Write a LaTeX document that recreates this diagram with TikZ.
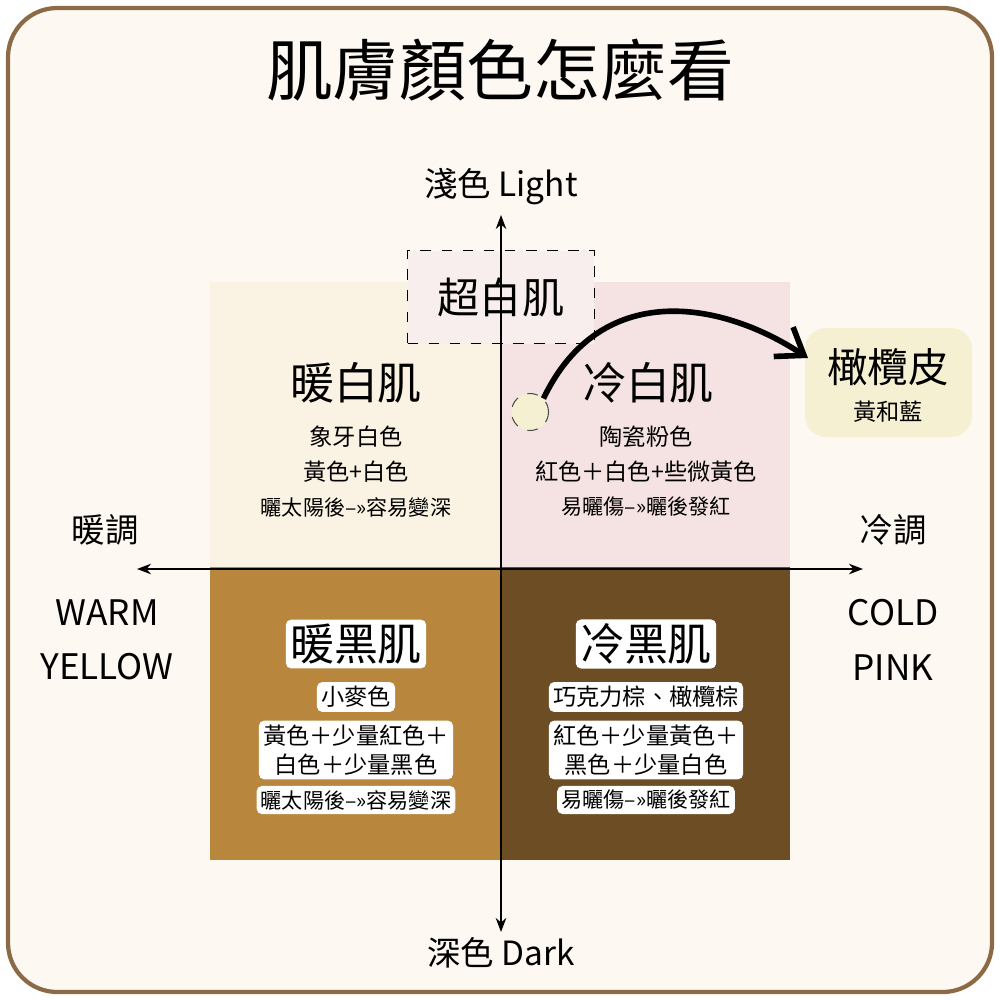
\documentclass[tikz,border=0pt]{standalone}
\usepackage{fontspec}
\setmainfont{Noto Sans CJK TC}
\usetikzlibrary{arrows.meta}
\definecolor{bg}{HTML}{FDF8F2}
\definecolor{frame}{HTML}{8B6A45}
\definecolor{qtl}{HTML}{FAF2E2}
\definecolor{qtr}{HTML}{F5E2E2}
\definecolor{qbl}{HTML}{B8873D}
\definecolor{qbr}{HTML}{6D4D24}
\definecolor{olive}{HTML}{F6F0D3}
\tikzset{
  qt/.style={font=\fontsize{12.5}{14}\selectfont},
  st/.style={font=\fontsize{6.6}{8}\selectfont},
  wt/.style={fill=white,rounded corners=1.5pt,inner sep=1.2pt},
  lbl/.style={font=\fontsize{9.5}{11}\selectfont},
  ax/.style={line width=0.5pt,-{Stealth[length=4pt]}}
}
\begin{document}
\begin{tikzpicture}[x=0.01cm,y=-0.01cm]
\useasboundingbox (0,0) rectangle (1000,1000);
\fill[white] (0,0) rectangle (1000,1000);
\draw[frame,line width=1.2pt,fill=bg,rounded corners=14pt] (8,8) rectangle (992,992);
\node (title) at (500,70) {\fontsize{19}{22}\selectfont 肌膚顏色怎麼看};
% quadrants
\fill[qtl] (210,282) rectangle (500,567);
\fill[qtr] (500,282) rectangle (790,567);
\fill[qbl] (210,567) rectangle (500,860);
\fill[qbr] (500,567) rectangle (790,860);
% super white box
\node[draw,dashed,line width=0.3pt,fill=qtr!60!white,minimum width=177\pgflinewidth,inner sep=0pt] (sw) at (501,297) {\tikz[x=0.01cm,y=-0.01cm]\useasboundingbox (0,0) rectangle (177,93);};
\node[qt,font=\fontsize{12}{14}\selectfont] (swt) at (501,297) {超白肌};
% axes
\coordinate (top) at (501,215);
\coordinate (bot) at (501,932);
\coordinate (lft) at (137,569);
\coordinate (rgt) at (863,569);
\draw[line width=0.5pt,{Stealth[length=4pt]}-{Stealth[length=4pt]}] (top) -- (bot);
\draw[line width=0.5pt,{Stealth[length=4pt]}-{Stealth[length=4pt]}] (lft) -- (rgt);
\node[lbl] (light) at (501,187) {淺色 Light};
\node[lbl] (dark) at (501,953) {深色 Dark};
\node[lbl] (nuan) at (105,530) {暖調};
\node[lbl] (leng) at (893,530) {冷調};
\node[lbl,align=center,font=\fontsize{10}{15.5}\selectfont] (warm) at (107,640) {WARM\\YELLOW};
\node[lbl,align=center,font=\fontsize{10}{15.5}\selectfont] (cold) at (893,640) {COLD\\PINK};
% TL
\node[qt] (tlt) at (356,383) {暖白肌};
\node[st] at (356,437) {象牙白色};
\node[st] at (356,472) {黃色+白色};
\node[st,font=\fontsize{6}{7}\selectfont] at (356,507) {曬太陽後-->>容易變深};
% TR
\node[qt] (trt) at (648,383) {冷白肌};
\node[st] at (646,437) {陶瓷粉色};
\node[st] at (646,472) {紅色＋白色+些微黃色};
\node[st,font=\fontsize{6}{7}\selectfont] at (646,507) {易曬傷-->>曬後發紅};
% BL
\node[qt,wt] (blt) at (356,644) {暖黑肌};
\node[st,wt] at (356,697) {小麥色};
\node[st,wt,align=center,font=\fontsize{6.6}{8.2}\selectfont] at (356,750) {黃色＋少量紅色＋\\白色＋少量黑色};
\node[st,wt,font=\fontsize{6}{7}\selectfont] at (356,800) {曬太陽後-->>容易變深};
% BR
\node[qt,wt] (brt) at (646,644) {冷黑肌};
\node[st,wt] at (646,697) {巧克力棕、橄欖棕};
\node[st,wt,align=center,font=\fontsize{6.6}{8.2}\selectfont] at (646,750) {紅色＋少量黃色＋\\黑色＋少量白色};
\node[st,wt,font=\fontsize{6}{7}\selectfont] at (646,800) {易曬傷-->>曬後發紅};
% olive
\fill[olive,rounded corners=6pt] (805,328) rectangle (972,437);
\node[qt,font=\fontsize{11.5}{13}\selectfont] (olt) at (888,367) {橄欖皮};
\node[st] (ols) at (888,412) {黃和藍};
% circle and arrow
\node[circle,draw=black!70,dashed,line width=0.3pt,fill=olive,minimum size=38\pgflinewidth,inner sep=0pt,minimum size=0.37cm] (dot) at (530,412) {};
\coordinate (tip) at (808,358);
\draw[line width=1.6pt,-{Straight Barb[length=7pt,width=10pt]}] (dot.north east) .. controls (600,280) and (720,300) .. (tip);
\end{tikzpicture}
\end{document}
